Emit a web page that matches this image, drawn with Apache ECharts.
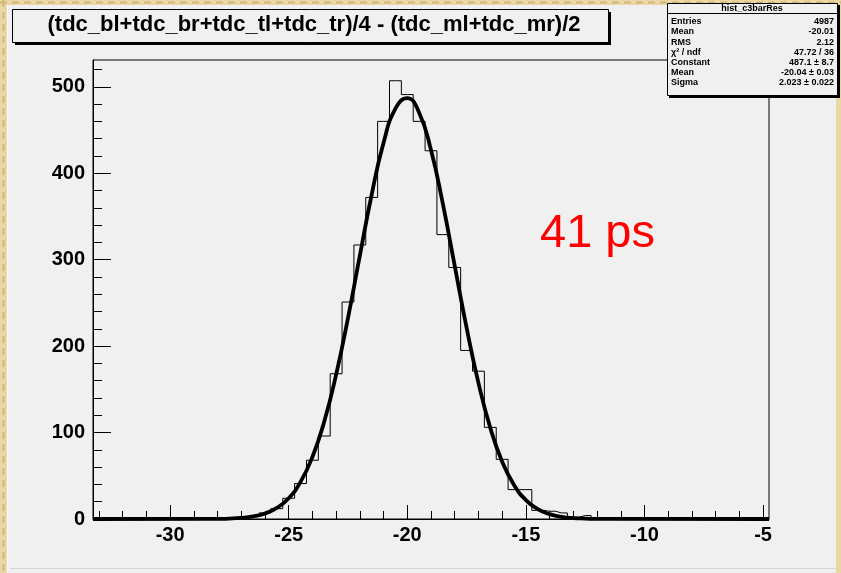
<!DOCTYPE html>
<html><head><meta charset="utf-8">
<script src="https://cdn.jsdelivr.net/npm/echarts@6/dist/echarts.min.js"></script>
<style>html,body{margin:0;padding:0;background:#f0f0f0}#c{width:841px;height:573px}</style>
</head><body><div id="c"></div><script>
// ---- data ----
const histLow = -33.25;
const histHigh = -4.75;
const binWidth = 0.5;
const counts = [0,0,0,0,0,0,0,0,0,0,0,
  1,2,4,7,12,24,41,68,96,168,251,317,372,460,507,491,460,426,329,291,195,171,106,69,34,34,10,9,7,2,4,1,
  0,0,0,0,0,0,0,0,0,0,0,0,0,0];
const fitX = [-33.25,-28.5,-28,-27.5,-27,-26.5,-26,-25.5,-25,-24.5,-24,-23.5,-23,-22.5,-22,-21.5,-21,-20.5,-20,
  -19.5,-19,-18.5,-18,-17.5,-17,-16.5,-16,-15.5,-15,-14.5,-14,-13.5,-13,-12.5,-12,-11.5,-4.75];
const fitY = [0,0.1,0.2,0.5,1.3,3,6.4,12.8,24.1,42.9,71.7,112.8,167,232.5,304.6,375.4,435.2,474.7,487,
  470,426.8,364.5,292.9,221.4,157.5,105.4,66.3,39.2,21.9,11.5,5.6,2.6,1.1,0.5,0.2,0.1,0];
const xMajorTicks = [-30,-25,-20,-15,-10,-5];
const xMinorTicks = [-33,-32,-31,-29,-28,-27,-26,-24,-23,-22,-21,-19,-18,-17,-16,-14,-13,-12,-11,-9,-8,-7,-6];
const yMajorTicks = [0,100,200,300,400,500];
const yMinorTicks = [20,40,60,80,120,140,160,180,220,240,260,280,320,340,360,380,420,440,460,480,520];
const yMax = 531;
const titleText = '(tdc_bl+tdc_br+tdc_tl+tdc_tr)/4 - (tdc_ml+tdc_mr)/2';
const statsName = 'hist_c3barRes';
const statsLabels = ['Entries','Mean','RMS','\u03c7\u00b2 / ndf','Constant','Mean','Sigma'];
const statsValues = ['4987','-20.01','2.12','47.72 / 36','487.1 \u00b1 8.7','-20.04 \u00b1 0.03','2.023 \u00b1 0.022'];
const noteText = '41 ps';

// ---- build ----
const histData = [[histLow, counts[0]]];
counts.forEach((c, i) => histData.push([histLow + binWidth * (i + 0.5), c]));
histData.push([histHigh, counts[counts.length - 1]]);
const fitData = fitX.map((x, i) => [x, fitY[i]]);

const FONT = '"Liberation Sans", Arial, Helvetica, sans-serif';
const chart = echarts.init(document.getElementById('c'), null, {renderer: 'canvas'});

const axisCommon = {type: 'value', splitLine: {show: false}};
const statsGraphics = [];
const rowY = [21.5, 32, 42.5, 53, 63, 72.5, 82.5];
statsLabels.forEach((l, i) => {
  statsGraphics.push({type: 'text', z: 60, style: {x: 671, y: rowY[i], text: l, font: 'bold 9px ' + FONT, fill: '#000', textAlign: 'left', textVerticalAlign: 'middle'}});
  statsGraphics.push({type: 'text', z: 60, style: {x: 834, y: rowY[i], text: statsValues[i], font: 'bold 9px ' + FONT, fill: '#000', textAlign: 'right', textVerticalAlign: 'middle'}});
});

chart.setOption({
  animation: false,
  backgroundColor: '#f0f0f0',
  grid: {left: 93, top: 60, width: 676, height: 459, show: true, borderColor: '#000', borderWidth: 1, backgroundColor: 'transparent'},
  xAxis: [
    Object.assign({}, axisCommon, {min: histLow, max: histHigh, position: 'bottom',
      axisLine: {show: true, lineStyle: {color: '#000', width: 1}},
      axisTick: {show: true, inside: true, length: 14, customValues: xMajorTicks, lineStyle: {color: '#000', width: 1}},
      axisLabel: {show: true, customValues: xMajorTicks, color: '#000', fontFamily: FONT, fontWeight: 'bold', fontSize: 20, margin: 6}}),
    Object.assign({}, axisCommon, {min: histLow, max: histHigh, position: 'bottom',
      axisLine: {show: false},
      axisTick: {show: true, inside: true, length: 8, customValues: xMinorTicks, lineStyle: {color: '#000', width: 1}},
      axisLabel: {show: false}})
  ],
  yAxis: [
    Object.assign({}, axisCommon, {min: 0, max: yMax, position: 'left',
      axisLine: {show: true, lineStyle: {color: '#000', width: 1}},
      axisTick: {show: true, inside: true, length: 18, customValues: yMajorTicks, lineStyle: {color: '#000', width: 1}},
      axisLabel: {show: true, customValues: yMajorTicks, color: '#000', fontFamily: FONT, fontWeight: 'bold', fontSize: 20, margin: 8}}),
    Object.assign({}, axisCommon, {min: 0, max: yMax, position: 'left',
      axisLine: {show: false},
      axisTick: {show: true, inside: true, length: 9, customValues: yMinorTicks, lineStyle: {color: '#000', width: 1}},
      axisLabel: {show: false}})
  ],
  series: [
    {type: 'line', name: 'hist', data: histData, step: 'middle', showSymbol: false, clip: false,
      lineStyle: {color: '#000', width: 1}, z: 3, xAxisIndex: 0, yAxisIndex: 0},
    {type: 'line', name: 'fit', data: fitData, smooth: 0.5, showSymbol: false, clip: false,
      lineStyle: {color: '#000', width: 3.8}, z: 4, xAxisIndex: 0, yAxisIndex: 0}
  ],
  graphic: [
    // page border decoration
    {type: 'rect', z: 1, shape: {x: 0, y: 0, width: 7, height: 573}, style: {fill: '#ead7a6'}},
    {type: 'rect', z: 1, shape: {x: 0, y: 0, width: 841, height: 5}, style: {fill: '#ead7a6'}},
    {type: 'rect', z: 1, shape: {x: 836, y: 0, width: 5, height: 573}, style: {fill: '#ead7a6'}},
    {type: 'line', z: 2, shape: {x1: 3.5, y1: 0, x2: 3.5, y2: 573}, style: {stroke: '#d2b877', lineWidth: 2, lineDash: [7, 5]}},
    {type: 'line', z: 2, shape: {x1: 0, y1: 2.5, x2: 841, y2: 2.5}, style: {stroke: '#d2b877', lineWidth: 2, lineDash: [7, 5]}},
    {type: 'line', z: 2, shape: {x1: 7.5, y1: 5, x2: 7.5, y2: 573}, style: {stroke: '#fafafa', lineWidth: 1}},
    {type: 'line', z: 2, shape: {x1: 10, y1: 568.5, x2: 836, y2: 568.5}, style: {stroke: '#d6d6d6', lineWidth: 1}},
    // title box
    {type: 'rect', z: 50, shape: {x: 15, y: 12, width: 596, height: 33}, style: {fill: '#000'}},
    {type: 'rect', z: 51, shape: {x: 12.5, y: 9.5, width: 596, height: 33}, style: {fill: '#f0f0f0', stroke: '#000', lineWidth: 1}},
    {type: 'text', z: 52, style: {x: 314, y: 25, text: titleText, font: 'bold 22px ' + FONT, fill: '#000', textAlign: 'center', textVerticalAlign: 'middle'}},
    // stats box
    {type: 'rect', z: 50, shape: {x: 669, y: 5, width: 171, height: 93}, style: {fill: '#000'}},
    {type: 'rect', z: 51, shape: {x: 667.5, y: 3.5, width: 170, height: 92}, style: {fill: '#f0f0f0', stroke: '#000', lineWidth: 1}},
    {type: 'line', z: 52, shape: {x1: 667.5, y1: 13.5, x2: 837.5, y2: 13.5}, style: {stroke: '#000', lineWidth: 1}},
    {type: 'text', z: 60, style: {x: 752, y: 8.5, text: statsName, font: 'bold 9px ' + FONT, fill: '#000', textAlign: 'center', textVerticalAlign: 'middle'}},
    ...statsGraphics,
    // annotation
    {type: 'text', z: 60, style: {x: 540, y: 234, text: noteText, font: '47px ' + FONT, fill: '#ff0000', textAlign: 'left', textVerticalAlign: 'middle'}}
  ]
});
</script></body></html>
